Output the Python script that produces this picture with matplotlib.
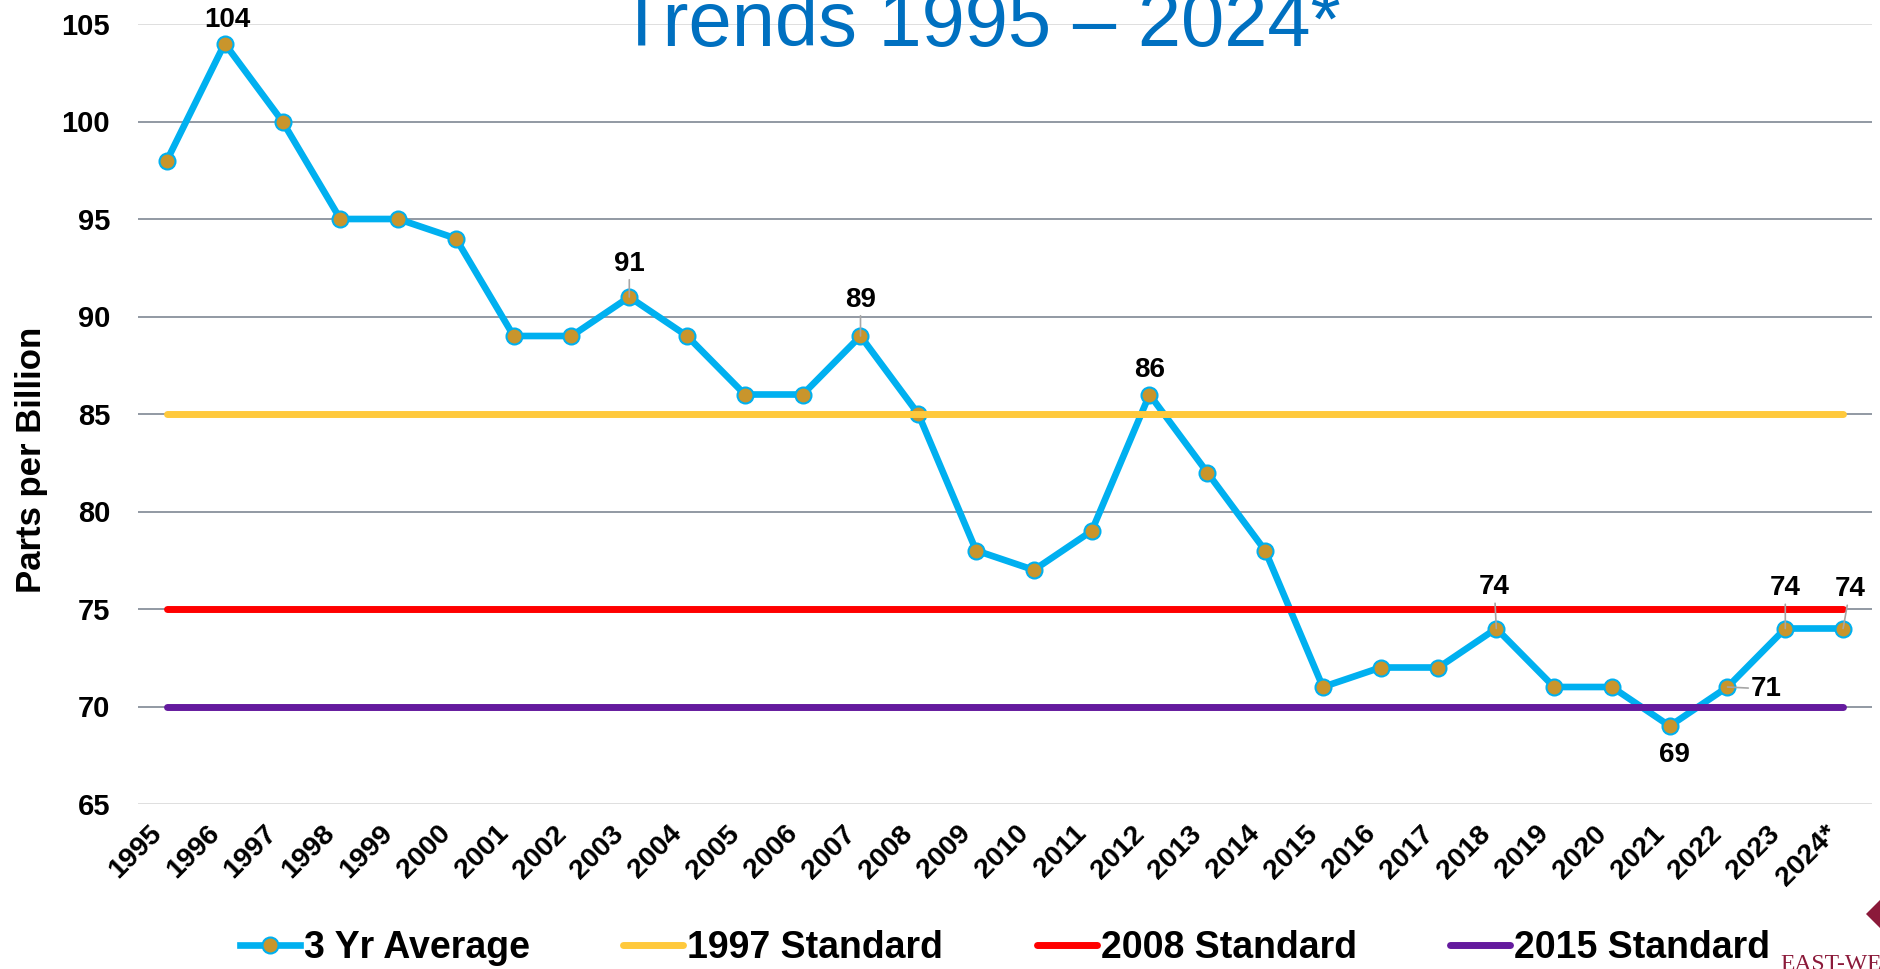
import matplotlib
matplotlib.use('Agg')
import matplotlib.pyplot as plt
import matplotlib.transforms as mtransforms
from matplotlib.patches import Polygon

plt.rcParams['font.family'] = ['Liberation Sans', 'DejaVu Sans']

years = ['1995', '1996', '1997', '1998', '1999', '2000', '2001', '2002', '2003', '2004',
         '2005', '2006', '2007', '2008', '2009', '2010', '2011', '2012', '2013', '2014',
         '2015', '2016', '2017', '2018', '2019', '2020', '2021', '2022', '2023', '2024*']
avg3 = [98, 104, 100, 95, 95, 94, 89, 89, 91, 89,
        86, 86, 89, 85, 78, 77, 79, 86, 82, 78,
        71, 72, 72, 74, 71, 71, 69, 71, 74, 74]

std_names = ['1997 Standard', '2008 Standard', '2015 Standard']
std_values = [85, 75, 70]
std_colors = ['#FFC93C', '#FF0000', '#641A9E']

# which points get a data label: index -> (dx px, dy px, leader line?)
labels = {1: (3, 23, False), 8: (0, 33, True), 12: (0, 36, True), 17: (0, 24, False),
          23: (-2, 41, True), 26: (5, -29, False), 27: (39, -2, True),
          28: (0, 40, True), 29: (7, 39, True)}

fig = plt.figure(figsize=(18.81, 9.69), dpi=100)
W, H = 1881, 969
ax = fig.add_axes([138 / W, 1 - 804 / H, (1872 - 138) / W, (804 - 24) / H])

x = list(range(len(years)))
ax.set_xlim(-0.5, len(years) - 0.5)
ax.set_ylim(65, 105)
ax.set_yticks(range(65, 106, 5))

for v in range(65, 106, 5):
    c = '#D9D9D9' if v in (65, 105) else '#7F8794'
    ax.axhline(v, color=c, lw=1.2, zorder=0)

ax.plot(x, avg3, color='#00B0F0', lw=4.8, marker='o', markersize=11.5,
        markerfacecolor='#C9952C', markeredgecolor='#00B0F0', markeredgewidth=1.5,
        label='3 Yr Average', zorder=3)

for name, v, c in zip(std_names, std_values, std_colors):
    ax.plot([x[0], x[-1]], [v, v], color=c, lw=5, solid_capstyle='round',
            label=name, zorder=4)

for i, (dx, dy, leader) in labels.items():
    kw = {}
    if leader:
        kw['arrowprops'] = dict(arrowstyle='-', color='#A6A6A6', lw=1.2,
                                shrinkA=0, shrinkB=0)
    ax.annotate(str(avg3[i]), (x[i], avg3[i]), xytext=(dx, dy),
                textcoords='offset pixels', ha='center', va='center',
                fontsize=20, fontweight='bold', color='black', zorder=6, **kw)

for s in ax.spines.values():
    s.set_visible(False)
ax.tick_params(axis='both', length=0)
ax.set_xticks(x)
ax.set_xticklabels(years, rotation=45, ha='right', fontsize=20.5, fontweight='bold')
shift = mtransforms.ScaledTranslation(9 / 100, 0, fig.dpi_scale_trans)
for t in ax.get_xticklabels():
    t.set_transform(t.get_transform() + shift)
ax.tick_params(axis='x', pad=12)
ax.tick_params(axis='y', pad=20, labelsize=21)
for t in ax.get_yticklabels():
    t.set_fontweight('bold')

fig.text(32 / W, 1 - 460 / H, 'Parts per Billion', rotation=90, ha='center', va='center',
         fontsize=25, fontweight='bold')

fig.text(979 / W, 1 - 46 / H, 'Trends 1995 \u2013 2024*', ha='center', va='baseline',
         fontsize=56, color='#0070C0')

leg = fig.legend(loc='center', bbox_to_anchor=(1005 / W, 1 - 948 / H), ncol=4,
                 frameon=False, fontsize=27, handlelength=1.6, handletextpad=0.1,
                 columnspacing=2.5)
for t in leg.get_texts():
    t.set_fontweight('bold')

# partial logo at the lower right corner
fig.patches.append(Polygon([[1866 / W, 1 - 914 / H], [1883 / W, 1 - 897 / H],
                            [1900 / W, 1 - 914 / H], [1883 / W, 1 - 931 / H]],
                           closed=True, transform=fig.transFigure,
                           facecolor='#8B1A3A', edgecolor='none'))
fig.text(1780 / W, 1 - 954 / H, 'EAST-WEST', ha='left', va='top', fontsize=17,
         color='#8B1A3A', family='Liberation Serif')

fig.savefig('out.png', dpi=100)
